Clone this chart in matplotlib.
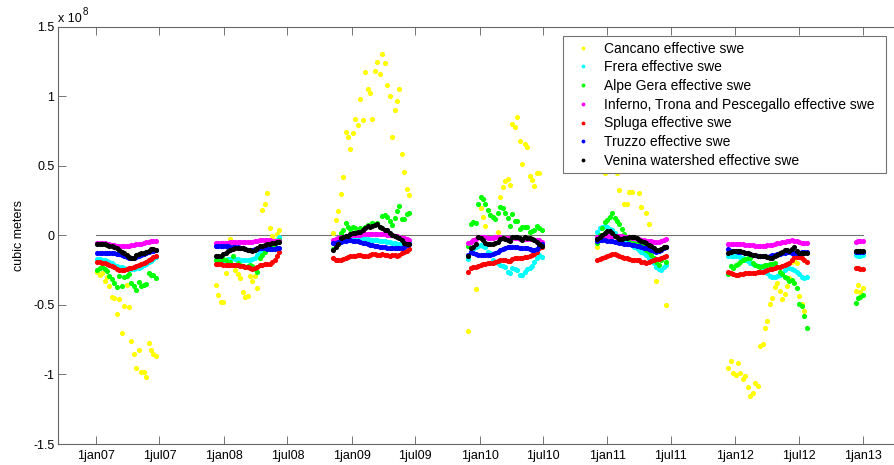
import numpy as np
import pandas as pd
import matplotlib
matplotlib.use('Agg')
import matplotlib.pyplot as plt

plt.rcParams['font.family'] = ['Liberation Sans', 'DejaVu Sans']
plt.rcParams['font.size'] = 9

# weekly samples, one block per winter season (values in million m^3)
season_start = ['2007-01-04', '2007-12-09', '2008-11-09', '2009-11-30',
                '2010-12-04', '2011-12-13', '2012-12-11']

nan = np.nan

cancano = [
    [-26, -28.5, -27, -33, -30, -36.4, -44.6, -45.3, -56.6, -46, -70, -50.8, -36,
     -51.3, -75.8, -85.3, -95.6, -82.5, -98, -98, -102, -77.6, -82.5, -85.3, -86.8],
    [-35.7, -42.9, -47.7, -47.7, -27.3, -20, -2.9, -21.4, -25, -28, -30.9, -41, -44.6,
     -43.4, -29.3, -33, -29.3, -38.1, -16, 18.2, 22.5, 30.6, 5.5, -0.5, -3, 1, 3.8],
    [1.9, 11, 17.7, 29.4, 42.2, 74.5, 70.4, 62.3, 73.3, 83.4, 79.1, 98.2, 82.9, 117.6,
     105.2, 102, 83.4, 118.1, 124.3, 116, 130.3, 123.6, 107.8, 100.1, 70.9, 90.1, 96.8,
     105.4, 58.2, 45.7, 33.3, 28.7],
    [-68.6, nan, nan, -38.6, nan, 19.4, 13.4, 6.7, nan, nan, nan, nan, 2.1, 27.5, 34.5,
     38.8, 40.2, 36.2, 80, 77.6, 84.8, 67.8, 51.5, 65.4, 63.7, 42.9, 39.8, 35.4, 44.5,
     45, nan],
    [-8.6, nan, nan, 44.6, nan, nan, nan, nan, 44.6, 32.6, nan, 22.2, 22.2, 31.4, 30.9,
     nan, nan, 30.2, 20.6, nan, 15.8, 8.1, nan, nan, -33, nan, nan, nan, -50],
    [-95.6, -90.1, -99.2, -100.4, -91.6, -99.2, -103.3, -101.2, -109.3, -115.5, -113,
     -106.4, -108.3, -79.6, -78.4, -66.4, -61.4, -49.4, -45.3, -36.9, -34, -39.8, -46,
     -42.2, -36.5, -31, -19, -18.4, -20.2, -43.4, -49.4, -54.4, nan],
    [-39.8, -35.5, -40.8, -38.1],
]

frera = [
    [-17, -17.3, -17.6, -18, -18.6, -19.3, -20, -21, -22, -22.5, -23, -23.5, -24, -24.5,
     -24.5, -24.2, -23.8, -23.2, -22.5, -21.6, -20.5, -19.4, -18.2, -17, -15.5],
    [-17.8, -17.8, -17.8, -17.6, -17.4, -17, -16.8, -16.6, -17, -17.3, -17.5, -17.6,
     -17.8, -17.8, -17.6, -17, -16, -14, -12, -10.5, -9.8, -9.4, -9, -8, -6, -3.4, -1.5],
    [-5, -4.5, -4, -3.5, -3, -2.5, -2, -1.5, -1.5, -1.5, -2, -2, -2, -2.5, -2.5, -3, -3,
     -3.2, -3.4, -3.8, -4, -4.2, -4.6, -5, -5.4, -5.8, -6, -6.2, -6.4, -6, -5.5, -5],
    [-17, -12, -10, -8.2, -7.5, -7.2, -8, -8.5, -11.8, -13, -17.8, -19, -20, -21, -22,
     -22.5, -26.2, -27.3, -23.8, -24.5, -25, -28.5, -28.7, -26, -24, -23.5, -22, -19.5,
     -16.6, -14.2, -15.4],
    [2.6, 5, 6.2, 6.7, 6.2, 4.5, 3.8, 1.4, -0.5, -2, -2.9, -4, -5, -6, -7, -8.2, -9.4,
     -10.6, -11.8, -12.5, -14, -16.6, -18.5, -20.2, -22.5, -24, -25, -23, -21.3],
    [-14.8, -14.5, -14.5, -14.8, -15, -15.5, -16.5, -17.5, -18.5, -20.2, -20.8, -21.3,
     -21.8, -22.2, -22.5, -24, -27, -29.3, -29.8, -29.8, -29.5, -28.5, -27, -25, -23.8,
     -23.8, -24.2, -25, -26.2, -28, -29.8, -30.6, -30.2],
    [-14.4, -14.6, -14.6, -14.4],
]

alpe_gera = [
    [-25, -23.7, -22.6, -24, -25.7, -29.3, -31.7, -34, -37.4, -29.3, -36.4, -30.2, -29.3,
     -27.8, -34, -36.4, -39.3, -33.3, -36.4, -35.7, -35, -27.3, -28.5, -28.8, -30.5],
    [-18, -19, -18, -17, -18, -20, -19, -14.9, -21.4, -20, -21, -22, -23, -22, -21, -22,
     -24, -26.2, -16, -14, -12, -10, -9, -9.4, -7.7, -5, -3],
    [-10.1, -6, -2, 1.4, 4, 9.1, 6.2, 4.3, 5.7, 5, 2.6, 5, 4.3, 6, 7.4, 7, 8.6, 8, 9.1,
     6, 13.9, 14.8, 12.9, 10, 7.4, 12.2, 17.2, 21.1, 11.5, 11.7, 15.1, 15.8],
    [-8, 8.1, 9.8, 9, 22.5, 27.3, 25.9, 22.5, 18.2, 14.8, 13.4, 11.5, 15.8, 20.1, 19.4,
     15.8, 12.2, 6.7, 15.1, 10.5, 10.3, 4.5, 5.7, 6, 6.2, 2.6, 3.1, 4, 6.7, 5.5, 4],
    [-5.8, 0, 5, 9.8, 11, 13.4, 15.8, 12.2, 10.5, 8, 4.5, 1, -1, -2.9, -3.4, -4, -5, -6,
     -7, -8.5, -10.6, -11.8, -14.2, -16.6, -19, -21.3, -17.8, -15.4, -19],
    [-27.8, -22, -23.8, -21.3, -20.5, -19.5, -17.8, -17, -16, -16.6, -19.7, -21, -22,
     -22.5, -21.8, -21.3, -21.3, -20.8, -20.5, -20.2, -22.5, -26, -27.8, -29.8, -31,
     -32.6, -32.4, -34, -38.1, -49.4, -50.8, -57.8, -66.9],
    [-48.9, -44.8, -44.1, -42.9],
]

inferno = [
    [-5.3, -5.3, -5.4, -5.6, -6, -6.3, -6.7, -7, -7.5, -7.7, -7.7, -7.6, -7.5, -7.3, -7,
     -6.8, -6.5, -6.3, -6, -5.5, -5, -4.6, -4.2, -3.9, -3.8],
    [-5.8, -5.8, -5.7, -5.6, -5.5, -5.2, -5, -4.8, -4.8, -4.8, -4.8, -4.7, -4.6, -4.6,
     -4.5, -4.5, -4.2, -3.8, -3.4, -3.2, -3.3, -3.5, -3.6, -3.8, -4, -4.1, -4.1],
    [-3, -2.5, -2, -1.5, -1, -0.5, -0.3, 0, 0, 0.3, 0.5, 0.5, 0.8, 1, 1, 1, 1, 1.2, 1.2,
     1, 1, 0.8, 0.5, 0.2, 0, -0.3, -0.5, -1, -1.6, -2.2, -2.8, -3.4],
    [-5.8, -4.8, -3.5, -2.4, -1.5, -1.2, -1.2, -1.4, -1.6, -1.6, -1.6, -1.5, -1.4, -1.4,
     -1.6, -1.8, -2, -2, -2.2, -2.2, -2.2, -2.4, -2.4, -2.6, -2.6, -2.8, -2.8, -3, -3,
     -3.4, -4.6],
    [-1.5, -1, -0.6, -0.4, -0.2, -0.2, -0.3, -0.5, -0.6, -0.8, -0.8, -1, -1.2, -1.4,
     -1.6, -2, -2.4, -2.8, -3.2, -3.6, -3.9, -4.2, -4.4, -4.6, -4.6, -4.6, -4.2, -3.5,
     -2.9],
    [-6.3, -6.2, -6, -6, -6, -6.2, -6.4, -6.6, -6.8, -7, -7.2, -7.4, -7.6, -7.7, -7.6,
     -7.4, -7.2, -7, -6.6, -6.2, -5.8, -5.4, -5, -4.6, -4.2, -3.8, -3.6, -3.8, -4.4, -5,
     -5.4, -5.8, -5.8],
    [-4.6, -4.4, -4.2, -4],
]

spluga = [
    [-19, -19.3, -19.6, -20, -20.6, -21.2, -22, -23, -24, -24.6, -25, -25, -24.2, -23.8,
     -23.2, -23, -22.2, -21.6, -20.8, -19.8, -18.8, -17.8, -16.8, -15.6, -14.6],
    [-20.6, -20.6, -20.8, -21, -21, -21.2, -21.4, -21.5, -21.5, -21.6, -21.8, -22, -22.4,
     -23, -23.5, -24.5, -23.5, -22.5, -21.5, -21, -20.8, -20.6, -20.6, -19.5, -17.8,
     -14.5, -11.8],
    [-16.6, -17.5, -18, -17.8, -16.8, -16, -15.5, -15, -15, -14.6, -14.2, -13.8, -14.5,
     -14.8, -14.5, -14, -13.5, -13.5, -13.8, -14, -13.6, -13.8, -14.2, -14.5, -14.2, -14,
     -14.5, -13.8, -13, -12, -11, -9.6],
    [-26.2, -23.8, -23, -22.5, -22, -21.5, -20.6, -20.4, -20.2, -20, -19.8, -19.2, -18.2,
     -17.8, -17.8, -18, -18.5, -18.7, -17.2, -16.6, -16.4, -16.2, -16.4, -15.8, -15.4,
     -14.8, -14, -13.4, -12, -9.4, -8.2],
    [-17.8, -17, -16.2, -15.4, -14.6, -13.8, -13.4, -13.6, -14.2, -14.9, -15.6, -16.2,
     -16.6, -17.2, -17.8, -17.8, -17.8, -18, -18.8, -19.5, -19.7, -19.3, -18.6, -18,
     -17.3, -16.8, -16, -15.4, -14.9],
    [-26.2, -27, -27.8, -28.5, -28.2, -27.8, -27.6, -27.4, -27.3, -27.2, -27, -26.8,
     -26.5, -26.2, -26, -25.6, -25, -24.5, -24, -23.4, -23, -22.4, -21.8, -21.3, -20.8,
     -20.2, -17.8, -15.8, -15.4, -15.6, -16.2, -17.5, -19],
    [-23.5, -23.8, -24, -24],
]

truzzo = [
    [-12.5, -12.5, -12.6, -12.7, -12.8, -12.9, -13, -13, -13.3, -13.6, -14, -14.6, -15.3,
     -16, -16.5, -16.4, -15.6, -14.8, -14, -13.3, -12.6, -12, -11.5, -11, -10.6],
    [-7.7, -7.7, -7.5, -7.3, -7.5, -8, -8.2, -8.2, -8.4, -8.6, -9, -9.4, -9.8, -10.2,
     -10.6, -10.4, -10, -9.6, -9.4, -9.2, -9.4, -9.6, -9.8, -9.8, -9.6, -9.4, -9.2],
    [-5.8, -5.5, -5, -4.6, -4.2, -3.8, -3.6, -3.6, -3.8, -4, -4.4, -4.8, -5.2, -5.6, -6,
     -6.6, -7, -7.4, -7.8, -8.2, -8.4, -8.6, -8.8, -9, -9.2, -9.4, -9.4, -9.2, -8.8, -8.2,
     -7, -6.3],
    [-14.2, -11.8, -13, -13.4, -13.8, -14, -14.2, -14.2, -14.2, -14, -13.6, -12.6, -11.8,
     -10.6, -10, -9.4, -8.6, -8.4, -8.2, -8.2, -8.4, -9, -9.4, -8.8, -9.2, -9.6, -10.4,
     -10.6, -9.5, -7.5, -6],
    [-3.9, -3.6, -3.4, -3.6, -4, -4.2, -4.4, -4.6, -5, -5.4, -5.8, -6, -6.3, -6.5, -6.7,
     -7, -7.4, -7.8, -8.2, -8.8, -9.4, -10, -10.6, -11.2, -11.8, -11.4, -10.6, -9.4, -8.2],
    [-10.1, -11, -11.5, -11.6, -11.8, -12, -12.2, -12.6, -13, -13.4, -13.8, -14.2, -14.5,
     -14.8, -15, -15.2, -15.5, -15, -14.4, -13.8, -13.4, -13.2, -12.8, -12.4, -12, -12.2,
     -12.6, -13, -12.8, -12.4, -12.2, -12, -11.8],
    [-12, -12, -12, -12],
]

venina = [
    [-6, -6, -6.2, -6.5, -7, -7.5, -8, -8.5, -9.4, -10.5, -12, -13, -14, -15.5, -16.5,
     -16, -14, -13.5, -13, -12.5, -12, -11, -9.5, -9.5, -10.5],
    [-14.9, -14.9, -14.5, -13.5, -13, -11.5, -10.6, -9.5, -9.2, -9, -9.2, -9.4, -10,
     -10.6, -10.8, -11, -10.6, -9, -7.7, -7.5, -7, -6.5, -6.2, -5.8, -5.4, -5, -4.6],
    [-10.6, -8.5, -6.5, -2.2, -1, -0.8, -0.5, 0.9, 1.5, 1.9, 2.4, 2.6, 4, 5.5, 6.5, 6.2,
     7, 7.4, 8, 6.2, 5, 4, 3.5, 1.5, 0.5, -0.5, -1, -2, -3.5, -5.3, -6.3, -6.3],
    [-15, -9.4, -8.6, -6, -1.5, -2, -3.4, -5.3, -6, -6.3, -6, -5.8, -4.5, -2.8, -2.2,
     -2.8, -3.5, -3.9, -1.5, -1, -1.2, -2, -3.4, -1.5, -1.6, -2, -2.6, -3.2, -4.6, -6,
     -7.5],
    [-2.9, -1.5, 0.5, 1.9, 3.3, 3, 1.5, -0.5, -1.5, -2.9, -2.5, -2, -1.8, -1.5, -1.5,
     -1.5, -2, -3.4, -3.8, -4.5, -5.8, -6.8, -8, -9.4, -10.4, -10.6, -9.5, -8.2, -8.7],
    [-12.5, -12, -11.5, -11, -11.2, -11.6, -12, -12.5, -13, -13.4, -13.8, -14.2, -14.9,
     -15.2, -15, -14.6, -15.5, -16.2, -16, -15, -13.8, -13, -12, -10.8, -10.6, -11.2, -10,
     -8.7, -11, -12.5, -13, -13, -12.5],
    [-11.2, -11.2, -11, -11],
]

series_names = ['Cancano effective swe', 'Frera effective swe', 'Alpe Gera effective swe',
                'Inferno, Trona and Pescegallo effective swe', 'Spluga effective swe',
                'Truzzo effective swe', 'Venina watershed effective swe']
series_colors = ['#ffff00', '#00ffff', '#00ff00', '#ff00ff', '#ff0000', '#0000ff', '#000000']
series_data = [cancano, frera, alpe_gera, inferno, spluga, truzzo, venina]

xtick_dates = ['2007-01-01', '2007-07-01', '2008-01-01', '2008-07-01', '2009-01-01',
               '2009-07-01', '2010-01-01', '2010-07-01', '2011-01-01', '2011-07-01',
               '2012-01-01', '2012-07-01', '2013-01-01']
xtick_labels = ['1jan07', '1jul07', '1jan08', '1jul08', '1jan09', '1jul09', '1jan10',
                '1jul10', '1jan11', '1jul11', '1jan12', '1jul12', '1jan13']
ytick_values = [-1.5, -1, -0.5, 0, 0.5, 1, 1.5]
ytick_labels = ['-1.5', '-1', '-0.5', '0', '0.5', '1', '1.5']


def main():
    fig = plt.figure(figsize=(8.94, 4.65), dpi=100)
    W, H = 894.0, 465.0
    ax = fig.add_axes([58 / W, 21 / H, 842 / W, 417.3 / H])

    ax.plot(pd.to_datetime(['2007-01-01', '2013-01-01']), [0, 0],
            color='0.45', lw=0.8, zorder=1)

    handles = []
    for name, color, data in zip(series_names, series_colors, series_data):
        for k, vals in enumerate(data):
            dates = pd.date_range(season_start[k], periods=len(vals), freq='7D')
            v = np.array(vals, dtype=float) * 1e6
            line, = ax.plot(dates, v, 'o', color=color, ms=3.7, mew=0, zorder=2)
        handles.append(line)

    ax.set_xlim(pd.Timestamp('2006-09-14'), pd.Timestamp('2013-04-17'))
    ax.set_ylim(-1.5e8, 1.5e8)
    ax.set_xticks(pd.to_datetime(xtick_dates))
    ax.set_xticklabels(xtick_labels)
    ax.set_yticks(np.array(ytick_values) * 1e8)
    ax.set_yticklabels(ytick_labels)
    ax.tick_params(direction='in', length=5.5, width=0.7, color='0.45',
                   top=True, right=False)
    ax.tick_params(axis='x', pad=4)
    ax.tick_params(axis='y', pad=2.5)
    for s in ax.spines.values():
        s.set_color('0.4')
        s.set_linewidth(0.8)

    ax.set_ylabel('cubic meters', labelpad=6)

    fig.text(58 / W, 1 - 22 / H, 'x 10', ha='left', va='baseline')
    fig.text(83 / W, 1 - 15 / H, '8', ha='left', va='baseline', fontsize=7)

    # legend box spans x 563..886, top at y 36 (pixels)
    leg = ax.legend(handles, series_names, loc='upper left', mode='expand',
                    bbox_to_anchor=(563 / W, 1 - 36 / H, 323 / W, 0.0),
                    bbox_transform=fig.transFigure,
                    borderaxespad=0, fancybox=False, framealpha=1, edgecolor='0.45',
                    fontsize=10, markerscale=0.75, handlelength=2.15, handletextpad=0.38,
                    labelspacing=0.34, borderpad=0.4)
    leg.get_frame().set_linewidth(0.8)

    fig.savefig('out.png', dpi=100)


if __name__ == "__main__":
    main()
